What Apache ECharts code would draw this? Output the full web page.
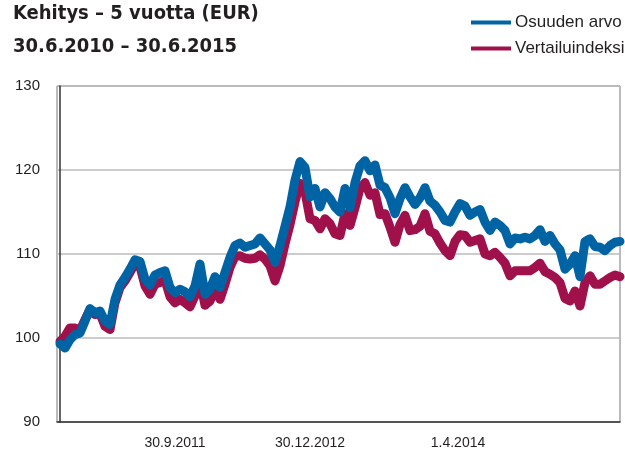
<!DOCTYPE html>
<html>
<head>
<meta charset="utf-8">
<script src="https://cdn.jsdelivr.net/npm/echarts@6/dist/echarts.min.js"></script>
<style>
  html, body { margin: 0; padding: 0; background: #fff; }
  #main { width: 625px; height: 451px; }
</style>
</head>
<body>
<div id="main"></div>
<script>
// Osuuden arvo (sininen) ja vertailuindeksi (punainen), 30.6.2010 - 30.6.2015
var fundValues = [
    99.3, 98.8, 99.8, 100.4, 100.6, 102.0, 103.5, 103.0, 103.2, 102.0,
    101.6, 104.6, 106.3, 107.2, 108.2, 109.3, 109.1, 107.0, 106.3, 107.5,
    107.8, 108.0, 106.0, 105.4, 105.8, 105.5, 104.9, 106.2, 108.8, 105.2,
    105.8, 107.3, 106.0, 107.8, 109.6, 111.0, 111.3, 110.8, 111.0, 111.2,
    111.9, 111.2, 110.5, 109.0, 111.0, 113.3, 115.6, 118.8, 121.0, 120.3,
    116.8, 117.8, 115.6, 117.3, 116.6, 115.6, 115.0, 117.8, 115.5, 118.5,
    120.5, 121.1, 119.9, 120.6, 118.2, 117.9, 116.7, 114.8, 116.6, 117.9,
    116.8, 115.9, 116.7, 117.9, 116.3, 115.8, 115.0, 114.0, 113.8, 115.0,
    116.0, 115.7, 114.6, 115.0, 115.3, 113.8, 112.8, 113.8, 113.4, 112.8,
    111.2, 111.9, 111.8, 112.0, 111.8, 112.2, 112.9, 111.5, 112.2, 111.2,
    110.5, 108.2, 108.8, 109.8, 107.3, 111.5, 111.8, 110.9, 110.8, 110.4,
    111.0, 111.4, 111.5
];
var indexValues = [
    99.6, 100.2, 101.2, 101.2, 100.9, 102.2, 103.4, 102.8, 102.9, 101.4,
    101.0, 104.2, 106.0, 106.8, 107.8, 108.9, 108.5, 106.2, 105.2, 106.4,
    106.6, 106.9, 104.9, 104.2, 104.6, 104.2, 103.7, 105.0, 106.8, 103.9,
    104.4, 105.8, 104.6, 106.4, 108.4, 109.7, 109.8, 109.5, 109.4, 109.5,
    109.9, 109.4, 108.6, 106.8, 108.6, 111.2, 113.5, 116.2, 118.4, 117.4,
    114.2, 114.0, 113.0, 114.2, 113.6, 112.4, 112.2, 114.8, 113.4, 115.5,
    117.8, 118.5, 117.0, 117.3, 114.7, 114.8, 113.2, 111.4, 113.5, 114.6,
    112.8, 112.9, 113.3, 114.8, 112.7, 112.4, 111.3, 110.4, 109.8, 111.5,
    112.3, 112.2, 111.4, 111.6, 111.8, 110.0, 109.8, 110.2, 109.6, 108.9,
    107.4, 108.0, 108.0, 108.0, 108.0, 108.4, 108.9, 107.9, 107.6, 107.2,
    106.6, 104.7, 104.4, 105.6, 103.8, 106.6, 107.4, 106.4, 106.4, 106.8,
    107.2, 107.5, 107.3
];
// x-akselin nimiöt ja niiden kohdat (datapisteen indeksi)
var tickLabels = ['30.9.2011', '30.12.2012', '1.4.2014'];
var tickPositions = [23, 50, 79.6];

var names = ['Osuuden arvo', 'Vertailuindeksi'];
var colors = ['#0064a4', '#a0104a'];

function toPoints(arr) {
    return arr.map(function (v, i) { return [i, v]; });
}

var myChart = echarts.init(document.getElementById('main'));

var option = {
    animation: false,
    backgroundColor: '#fff',
    title: {
        text: 'Kehitys – 5 vuotta (EUR)\n30.6.2010 – 30.6.2015',
        left: 8,
        top: -8,
        textStyle: {
            fontFamily: 'DejaVu Sans Condensed, Liberation Sans, sans-serif',
            fontWeight: 'bold',
            fontSize: 20,
            lineHeight: 33,
            color: '#231f20'
        }
    },
    legend: {
        orient: 'vertical',
        left: 466,
        top: 9,
        itemWidth: 40,
        itemHeight: 4,
        itemGap: 9,
        icon: 'rect',
        data: names,
        textStyle: {
            fontFamily: 'Liberation Sans',
            fontSize: 17,
            color: '#231f20',
            padding: [0, 0, 0, -1]
        }
    },
    grid: {
        left: 57,
        right: 5,
        top: 86,
        bottom: 29,
        show: true,
        borderColor: '#777',
        borderWidth: 1
    },
    xAxis: {
        type: 'value',
        min: -0.6,
        max: 112,
        axisLine: { show: true, onZero: false, lineStyle: { color: '#333', width: 1.5 } },
        axisTick: { show: false },
        splitLine: { show: false },
        axisLabel: {
            customValues: tickPositions,
            margin: 14,
            fontFamily: 'Liberation Sans',
            fontSize: 14,
            color: '#231f20',
            formatter: function (v) {
                var k = tickPositions.indexOf(v);
                return k >= 0 ? tickLabels[k] : '';
            }
        }
    },
    yAxis: {
        type: 'value',
        min: 90,
        max: 130,
        interval: 10,
        axisLine: { show: true, lineStyle: { color: '#333', width: 1.5 } },
        axisTick: { show: false },
        splitLine: { show: true, lineStyle: { color: '#bbb', width: 1.5 } },
        axisLabel: {
            margin: 17,
            fontFamily: 'Liberation Sans',
            fontSize: 15,
            color: '#231f20'
        }
    },
    series: [{
        name: names[1],
        type: 'line',
        data: toPoints(indexValues),
        showSymbol: false,
        color: colors[1],
        lineStyle: { width: 9, cap: 'round', join: 'round' },
        z: 2
    }, {
        name: names[0],
        type: 'line',
        data: toPoints(fundValues),
        showSymbol: false,
        color: colors[0],
        lineStyle: { width: 9, cap: 'round', join: 'round' },
        z: 3
    }]
};

myChart.setOption(option);
</script>
</body>
</html>
